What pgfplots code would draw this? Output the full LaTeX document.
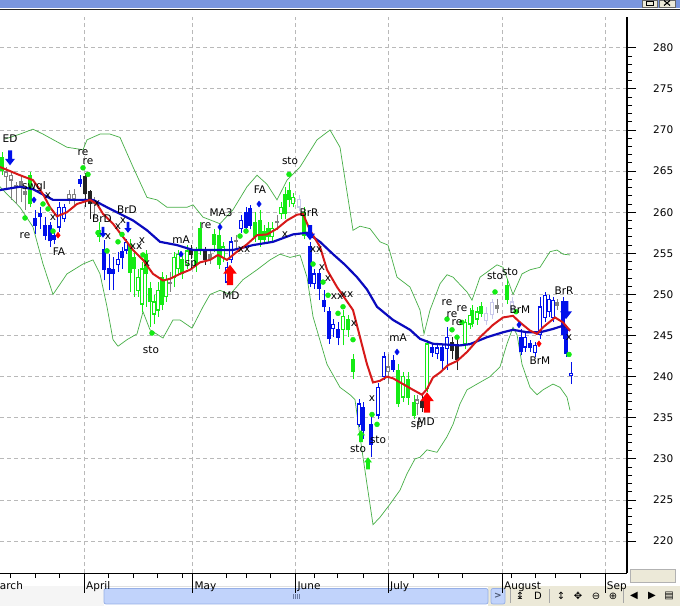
\documentclass[border=0pt]{standalone}
\usepackage{fontspec}
\setmainfont{DejaVu Sans}
\usepackage{pgfplots}
\usepackage{pgfplotstable}
\pgfplotsset{compat=1.18}

\definecolor{cgreen}{RGB}{20,235,20}
\definecolor{cblue}{RGB}{0,16,235}
\definecolor{cband}{RGB}{70,175,70}
\definecolor{cmablue}{RGB}{10,10,190}
\definecolor{cred}{RGB}{215,25,25}
\definecolor{cgray}{RGB}{128,128,128}
\definecolor{clav}{RGB}{200,200,235}
\definecolor{cblack}{RGB}{35,35,35}
\definecolor{gridc}{RGB}{185,185,185}
\definecolor{titlec}{RGB}{122,150,222}
\definecolor{uibg}{RGB}{236,233,216}
\definecolor{thumbc}{RGB}{193,211,251}
\definecolor{thumbb}{RGB}{150,175,230}

\newcommand\ff{\fontsize{10.5bp}{12bp}\selectfont}

\pgfdeclareplotmark{darr}{%
  \pgfpathmoveto{\pgfpointorigin}%
  \pgfpathlineto{\pgfqpoint{\pgfplotmarksize}{1.3\pgfplotmarksize}}%
  \pgfpathlineto{\pgfqpoint{0.4\pgfplotmarksize}{1.3\pgfplotmarksize}}%
  \pgfpathlineto{\pgfqpoint{0.4\pgfplotmarksize}{3\pgfplotmarksize}}%
  \pgfpathlineto{\pgfqpoint{-0.4\pgfplotmarksize}{3\pgfplotmarksize}}%
  \pgfpathlineto{\pgfqpoint{-0.4\pgfplotmarksize}{1.3\pgfplotmarksize}}%
  \pgfpathlineto{\pgfqpoint{-\pgfplotmarksize}{1.3\pgfplotmarksize}}%
  \pgfpathclose\pgfusepathqfill}
\pgfdeclareplotmark{uarr}{%
  \pgfpathmoveto{\pgfpointorigin}%
  \pgfpathlineto{\pgfqpoint{\pgfplotmarksize}{-1.3\pgfplotmarksize}}%
  \pgfpathlineto{\pgfqpoint{0.45\pgfplotmarksize}{-1.3\pgfplotmarksize}}%
  \pgfpathlineto{\pgfqpoint{0.45\pgfplotmarksize}{-3\pgfplotmarksize}}%
  \pgfpathlineto{\pgfqpoint{-0.45\pgfplotmarksize}{-3\pgfplotmarksize}}%
  \pgfpathlineto{\pgfqpoint{-0.45\pgfplotmarksize}{-1.3\pgfplotmarksize}}%
  \pgfpathlineto{\pgfqpoint{-\pgfplotmarksize}{-1.3\pgfplotmarksize}}%
  \pgfpathclose\pgfusepathqfill}

% candles: x, wick low, wick high, body low, body high
\pgfplotstableread{
x lo hi bo bc
2 264.5 267.3 265.1 266.7
30 260.6 264.9 261.0 264.5
99 256.4 258.8 257.0 257.8
130 250.3 256.7 252.7 256.1
134 249.7 255.2 253.1 254.5
146 248.5 255.4 252.5 254.9
150 246.0 251.5 249.1 250.7
162 248.1 252.7 248.8 252.1
182 251.9 254.8 252.5 254.3
196 252.7 255.8 253.6 255.2
200 254.8 258.8 255.4 258.0
214 255.2 258.0 256.1 257.3
219 253.1 258.0 253.7 257.2
255 256.4 260.0 257.0 258.8
260 255.8 260.3 256.7 259.0
264 256.1 258.4 256.7 257.6
268 256.4 258.8 257.0 258.0
285 259.2 263.1 259.8 262.2
289 260.6 263.7 261.5 262.7
304 256.7 260.6 257.2 260.0
348 244.8 247.5 245.7 246.9
353 239.7 242.8 240.6 242.1
398 236.3 241.5 236.7 240.8
408 236.6 240.6 237.5 239.7
414 234.8 237.8 235.3 236.9
472 246.0 248.7 246.5 248.1
481 247.3 249.1 247.7 248.5
507 248.8 251.9 249.4 251.1
}\tgf
\pgfplotstableread{
x lo hi bo bc
138 249.7 253.1 250.5 252.1
142 247.9 253.9 248.8 253.1
154 246.4 249.9 247.6 249.1
158 247.3 251.5 248.1 250.5
166 249.1 252.4 249.7 251.8
174 250.9 255.2 252.1 254.5
178 252.4 255.4 253.1 254.9
187 253.1 256.0 253.6 255.3
223 253.9 256.4 254.5 255.8
272 256.4 258.8 257.0 258.0
281 259.2 261.2 259.8 260.6
293 260.6 262.3 261.0 261.8
343 243.8 248.1 245.7 247.3
403 236.9 240.6 237.5 240.0
427 238.1 244.5 238.5 244.0
465 243.4 247.0 244.0 246.6
470 245.8 248.4 246.4 247.5
477 246.3 248.5 247.0 247.9
}\tgh
\pgfplotstableread{
x lo hi bo bc
35 257.3 260.3 258.4 259.2
40 258.0 260.6 259.5 259.9
45 256.6 259.4 257.2 258.4
50 255.8 258.8 256.5 258.4
54 256.1 257.5 256.7 257.2
80 263.1 264.5 263.5 264.0
104 251.7 256.6 253.0 255.5
109 250.5 254.9 252.6 253.1
113 250.5 254.5 252.6 253.0
122 253.1 255.8 254.5 255.2
246 257.6 260.6 258.2 260.0
250 257.9 260.9 258.4 260.4
310 250.9 256.4 251.3 255.8
319 249.3 253.1 250.7 252.5
324 247.9 250.5 248.5 249.3
329 244.0 248.5 244.6 247.9
338 243.8 246.6 244.8 245.7
363 232.4 236.9 233.5 236.3
371 230.2 235.1 231.8 234.2
393 240.6 242.6 240.9 242.0
432 242.4 244.0 242.9 243.5
442 240.9 243.8 242.0 243.5
521 242.6 245.8 243.0 244.8
530 243.0 244.5 243.6 244.0
563 244.6 249.7 245.1 249.1
566 242.4 246.3 242.8 245.7
}\tbf
\pgfplotstableread{
x lo hi bo bc
59 257.6 261.2 258.2 260.6
64 258.8 261.0 259.2 260.6
118 252.7 255.2 253.6 254.3
126 254.9 256.7 255.4 256.3
227 251.1 253.9 251.5 253.3
231 253.8 257.0 254.2 256.4
241 257.5 259.7 258.0 259.0
314 250.7 253.1 251.3 252.5
333 244.8 247.0 245.8 246.4
359 233.9 237.3 234.2 236.7
378 234.8 239.2 235.3 238.7
384 239.6 243.0 240.0 242.4
437 242.1 244.1 242.8 243.5
447 240.8 246.0 243.4 244.8
525 243.0 245.3 243.6 244.8
535 242.4 244.2 242.9 243.8
540 244.6 249.7 245.1 248.5
545 246.6 250.3 247.2 249.9
549 247.2 249.9 247.9 249.4
553 246.6 249.7 247.2 249.3
571 239.1 241.8 240.1 240.4
}\tbh
\pgfplotstableread{
x lo hi bo bc
85 260.6 264.8 262.3 264.4
90 259.2 262.7 261.0 262.5
191 254.3 256.0 254.9 255.5
205 253.6 255.8 254.2 255.2
422 235.7 237.8 236.3 237.0
452 242.1 244.8 243.2 244.1
457 240.8 244.6 242.1 243.7
}\tkf
\pgfplotstableread{
x lo hi bo bc
6 262.7 265.5 264.3 264.9
11 261.5 264.9 263.9 264.5
69 261.0 262.7 261.6 262.2
74 260.9 262.8 261.6 262.2
388 239.1 242.8 240.6 241.2
417 235.3 237.8 236.7 237.2
}\tgrh
\pgfplotstableread{
x lo hi bo bc
16 261.0 263.7 263.1 263.3
21 261.2 264.3 263.3 263.7
25 260.3 263.1 262.2 262.5
94 259.4 261.8 261.0 261.2
170 250.3 252.7 251.3 251.5
210 253.7 255.4 254.2 254.9
236 255.5 257.2 256.4 256.6
277 257.8 259.7 258.7 258.9
497 247.7 249.4 248.3 248.6
557 248.1 249.4 248.7 249.0
}\tgrf
\pgfplotstableread{
x lo hi bo bc
299 260.1 262.1 260.6 261.6
486 246.3 248.5 246.8 247.7
492 247.0 249.4 247.5 249.0
512 247.7 249.7 248.2 249.1
}\tlv

\pgfplotstableread{
x y
0 265.5
20 264.5
33 263.9
43 262.2
50 260.6
57 259.5
67 260.0
77 261.0
90 261.5
97 261.0
103 259.8
113 258.6
123 257.0
133 255.4
143 254.2
153 252.5
163 251.7
170 251.9
180 252.5
190 253.0
200 253.9
210 254.2
218 254.8
227 254.2
237 255.2
247 256.1
257 257.2
267 257.3
277 258.0
287 259.0
297 259.7
303 259.8
310 257.8
320 255.8
327 253.0
337 250.9
353 248.1
360 244.8
367 241.5
373 239.3
380 239.5
387 240.0
393 239.8
403 239.1
413 238.4
422 237.8
427 238.5
433 239.9
440 240.5
448 241.4
457 241.9
467 243.0
480 244.8
493 246.3
503 247.2
513 247.4
520 246.6
530 245.6
537 245.2
543 246.0
555 247.2
563 246.6
570 245.6
}\tred
\pgfplotstableread{
x y
0 262.7
20 263.1
33 262.8
53 261.5
93 261.5
107 260.6
120 259.8
133 259.0
147 257.8
160 256.4
177 256.0
193 255.4
233 255.4
253 256.0
273 256.4
293 257.3
307 257.5
320 256.4
333 254.9
345 253.6
357 252.1
367 250.6
377 248.5
393 246.9
410 245.7
420 244.6
433 244.0
460 243.8
470 243.96
487 244.8
503 245.4
513 245.7
527 245.4
540 245.4
553 245.8
563 246.2
570 245.6
}\tma
\pgfplotstableread{
x y
5 268.9
20 269.5
33 270.1
43 269.5
67 267.9
83 267.6
87 268.8
100 269.5
110 269.5
120 269.1
133 265.5
147 261.8
157 261.5
167 260.6
187 260.6
193 260.9
203 259.4
220 258.6
233 260.3
247 263.1
257 264.5
267 263.4
277 261.5
287 263.9
300 265.5
317 268.8
330 270.0
340 267.9
353 257.8
360 258.3
370 258.0
380 256.4
388 256.0
397 252.1
410 250.9
420 248.1
424 245.2
430 248.1
440 251.3
447 252.4
453 252.1
467 250.3
472 249.3
480 252.1
497 253.6
503 253.3
513 250.0
522 252.5
530 253.0
540 253.3
550 255.2
557 255.4
563 254.9
570 254.8
}\tup
\pgfplotstableread{
x y
0 263.1
7 262.2
20 260.6
33 258.2
43 253.7
53 250.0
67 252.5
83 253.7
93 254.2
100 252.5
107 248.5
113 244.5
118 243.7
127 244.5
137 245.2
143 247.9
150 245.7
163 244.7
173 246.9
180 246.9
192 245.9
203 248.5
210 250.0
220 250.5
230 250.0
243 251.8
257 253.0
270 254.2
280 254.9
290 254.5
300 254.8
307 252.1
313 247.3
327 241.5
340 238.7
350 237.8
355 237.2
360 232.7
367 226.9
373 222.0
380 222.9
390 224.5
400 226.2
407 228.2
415 230.0
420 230.2
427 231.1
437 230.8
447 232.7
453 234.2
460 236.7
467 238.4
477 239.1
490 240.0
500 241.2
507 244.0
513 246.0
517 245.1
522 241.5
530 238.7
537 237.8
543 238.4
553 239.1
560 238.7
567 237.5
570 235.9
}\tlow
\pgfplotstableread{
x y
25 259.3
43 261.0
48 260.4
53 257.7
83 265.4
88 264.6
98 257.5
107 255.3
118 256.4
122 257.3
143 254.8
152 245.3
240 257.1
246 257.7
289 264.6
313 253.7
323 251.5
328 249.9
338 247.7
343 248.5
353 244.5
372 235.4
377 234.2
447 247.0
452 245.7
457 244.8
462 246.6
495 250.3
516 247.9
569 242.7
}\tdots
\pgfplotstableread{
x y t
10 269.0 ED
34 263.1 swgl
25 257.1 re
48 262.0 x
53 259.4 x
59 255.2 FA
83 267.2 re
88 266.2 re
97 261.0 x
102 259.2 BrD
127 260.3 BrD
108 257.0 x
118 258.2 x
123 259.0 x
136 255.8 xx
142 256.6 x
147 253.8 x
151 243.2 sto
181 256.7 mA
191 253.6 sp
206 258.4 re
221 260.0 MA3
231 249.9 MD
244 255.4 xx
260 262.8 FA
285 257.3 x
290 266.3 sto
309 259.9 BrR
316 255.4 xx
322 253.3 x
328 251.9 x
337 249.7 xx
347 250.0 xx
354 246.4 x
372 237.3 x
358 231.2 sto
378 232.3 sto
398 244.7 mA
417 234.1 sp
426 234.5 MD
447 248.95 re
452 247.6 re
462 248.3 re
457 246.6 re
495 252.2 sto
510 252.7 sto
520 248.1 BrM
540 241.9 BrM
564 250.4 BrR
569 244.8 x
}\tlab

\newcommand{\candles}[2]{%
  \addplot[draw=none, mark=none, forget plot, error bars/.cd, y dir=plus, y explicit, error mark=none,
    error bar style={line width=1bp, solid, draw=#2}]
    table[x=x, y=lo, y error plus expr=\thisrow{hi}-\thisrow{lo}] {#1};
  \addplot[draw=none, mark=none, forget plot, error bars/.cd, y dir=plus, y explicit, error mark=none,
    error bar style={line width=4.4bp, solid, draw=#2}]
    table[x=x, y expr=\thisrow{bo}-0.06, y error plus expr=\thisrow{bc}-\thisrow{bo}+0.12] {#1};
}
\newcommand{\hollow}[1]{%
  \addplot[draw=none, mark=none, forget plot, error bars/.cd, y dir=plus, y explicit, error mark=none,
    error bar style={line width=2.4bp, solid, draw=white}]
    table[x=x, y expr=\thisrow{bo}+0.1, y error plus expr={max(\thisrow{bc}-\thisrow{bo}-0.2,0)}] {#1};
}

\begin{document}
\begin{tikzpicture}[x=1bp,y=1bp]
\useasboundingbox (0,0) rectangle (680,606);
\fill[white] (0,0) rectangle (680,606);
% window title strip
\fill[titlec] (0,598) rectangle (680,606);
\fill[black!85] (0,595.5) rectangle (680,597.2);
\fill[uibg] (642,599) rectangle (657,606); \draw[black!60,line width=0.6] (642,599) rectangle (657,606);
\fill[uibg] (659,599) rectangle (675,606); \draw[black!60,line width=0.6] (659,599) rectangle (675,606);
\draw[black,line width=0.9] (646,601) rectangle (653,605);
\draw[black,line width=1.1] (664,600.5) -- (670,605.5) (664,605.5) -- (670,600.5);
% bottom scroll bar / toolbar
\fill[black!12] (0,19.5) rectangle (680,20.3);
\fill[black!4] (0,0) rectangle (104,19.5);
\fill[uibg] (488,0) rectangle (680,19.5);
\fill[thumbc, rounded corners=2] (104,2) rectangle (488,17.5);
\draw[thumbb, rounded corners=2, line width=0.7] (104,2) rectangle (488,17.5);
\foreach \gx in {293,295,297,299} {\draw[thumbb!70!black, line width=0.5] (\gx,7) -- (\gx,12);}
\fill[thumbc, rounded corners=2] (491,2) rectangle (505,17.5);
\draw[thumbb, rounded corners=2, line width=0.7] (491,2) rectangle (505,17.5);
\node[font=\fontsize{9bp}{10bp}\selectfont\bfseries, text=thumbb!50!black] at (498,9.8) {>};
\foreach \sx in {510,549,623} {\draw[black!35, line width=0.8] (\sx,3) -- (\sx,17);}
\begin{scope}[every node/.style={font=\fontsize{10bp}{11bp}\selectfont, inner sep=0pt}]
\node at (520,10) {↨};
\node at (538,10) {D};
\node at (561,10) {↕};
\node at (578,10) {✥};
\node at (596,10) {⊖};
\node at (613,10) {⊕};
\node at (634,10) {◀};
\node at (652,10) {▶};
\node at (669,10) {▤};
\end{scope}
\fill[uibg] (630,24) rectangle (675,37);
\draw[black!30, line width=0.7] (630,24) rectangle (675,37);

\begin{axis}[
  at={(0,40)}, anchor=south west,
  scale only axis, width=627bp, height=556bp,
  xmin=0, xmax=627, ymin=216.11, ymax=283.73,
  clip=false,
  axis x line=bottom, axis y line=right,
  axis line style={-, black, line width=1.1bp},
  tick align=outside,
  major tick length=9bp, minor tick length=5bp,
  tick style={black, line width=0.9bp},
  ytick={220,225,...,280},
  minor y tick num=4,
  xtick={84.3,192.7,295.7,388.3,502.3,605},
  xticklabels={},
  minor xtick={10,35.7,59.3,108.3,133.3,157.3,182.7,226.7,246.7,270.7,314.3,337,363.3,413.3,438.3,462.3,511.7,535,555.7,580},
  grid=major,
  major grid style={gridc, dash pattern=on 4bp off 3bp, line width=0.8bp},
  /pgf/number format/assume math mode=true,
  ticklabel style={font=\ff},
  yticklabel style={inner sep=0pt, anchor=west, xshift=17bp},
]
% Bollinger bands
\addplot[cband, line width=0.7bp] table[x=x,y=y] \tup;
\addplot[cband, line width=0.7bp] table[x=x,y=y] \tlow;
% candles
\candles{\tgrf}{cgray}
\candles{\tgrh}{cgray}\hollow{\tgrh}
\candles{\tlv}{clav}\hollow{\tlv}
\candles{\tkf}{cblack}
\candles{\tgf}{cgreen}
\candles{\tgh}{cgreen}\hollow{\tgh}
\candles{\tbf}{cblue}
\candles{\tbh}{cblue}\hollow{\tbh}
% moving averages
\addplot[cmablue, line width=2.2bp] table[x=x,y=y] \tma;
\addplot[cred, line width=2bp] table[x=x,y=y] \tred;
% signal markers
\addplot[only marks, mark=*, cgreen, mark size=2.5bp] table[x=x,y=y] \tdots;
\addplot[only marks, mark=diamond*, cblue, mark size=3bp] coordinates {(34,261.5) (181,254.9) (220,258.2) (259,261.0) (397,243.0) (519,246.3)};
\addplot[only marks, mark=diamond*, red, mark size=3bp] coordinates {(58,257.2) (539,244.0)};
\addplot[only marks, mark=darr, cblue, mark size=5bp] coordinates {(10,265.7) (310,256.6)};
\addplot[only marks, mark=darr, cblue, mark size=3.6bp] coordinates {(103,256.9) (128,257.5)};
\addplot[only marks, mark=darr, cblue, mark size=6bp] coordinates {(566,247.0)};
\addplot[only marks, mark=uarr, red, mark size=6.8bp] coordinates {(230,253.6) (427,238.1)};
\addplot[only marks, mark=uarr, cgreen, mark size=4bp] coordinates {(361,233.5) (368,230.2)};
% text signals
\addplot[only marks, mark=none, nodes near coords, point meta=explicit symbolic,
  every node near coord/.append style={font=\ff, anchor=center, inner sep=0pt, text=black}]
  table[x=x, y=y, meta=t] \tlab;
% month ticks and labels
\pgfplotsinvokeforeach{84.3,192.7,295.7,388.3,502.3,605}{%
  \draw[black, line width=0.9bp] (axis cs:#1,216.11) -- ++(0pt,-20bp);}
\node[font=\ff, anchor=base west, inner sep=0pt] at (axis cs:-11,216.11) [xshift=1.7bp, yshift=-16bp] {March};
\node[font=\ff, anchor=base west, inner sep=0pt] at (axis cs:84.3,216.11) [xshift=1.7bp, yshift=-16bp] {April};
\node[font=\ff, anchor=base west, inner sep=0pt] at (axis cs:192.7,216.11) [xshift=1.7bp, yshift=-16bp] {May};
\node[font=\ff, anchor=base west, inner sep=0pt] at (axis cs:295.7,216.11) [xshift=1.7bp, yshift=-16bp] {June};
\node[font=\ff, anchor=base west, inner sep=0pt] at (axis cs:388.3,216.11) [xshift=1.7bp, yshift=-16bp] {July};
\node[font=\ff, anchor=base west, inner sep=0pt] at (axis cs:502.3,216.11) [xshift=1.7bp, yshift=-16bp] {August};
\node[font=\ff, anchor=base west, inner sep=0pt] at (axis cs:605,216.11) [xshift=1.7bp, yshift=-16bp] {Sep};
\end{axis}
\end{tikzpicture}
\end{document}
